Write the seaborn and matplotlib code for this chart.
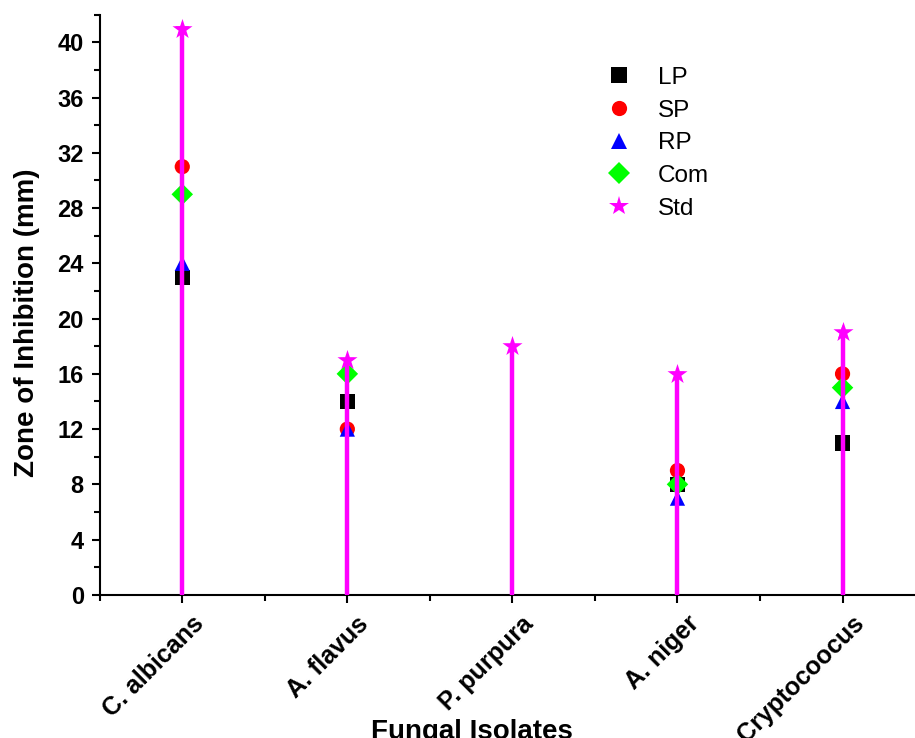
import numpy as np
import pandas as pd
import seaborn as sns
import matplotlib
matplotlib.use("Agg")
import matplotlib.pyplot as plt
import matplotlib.transforms as mtransforms
from matplotlib.ticker import MultipleLocator

# data
isolates = ["C. albicans", "A. flavus", "P. purpura", "A. niger", "Cryptocoocus"]
LP = [23, 14, np.nan, 8, 11]
SP = [31, 12, np.nan, 9, 16]
RP = [24, 12, np.nan, 7, 14]
Com = [29, 16, np.nan, 8, 15]
Std = [41, 17, 18, 16, 19]

series = {"LP": LP, "SP": SP, "RP": RP, "Com": Com, "Std": Std}
rows = []
for name, vals in series.items():
    for i, v in enumerate(vals):
        rows.append({"pos": i, "isolate": isolates[i], "group": name, "zone": v})
df = pd.DataFrame(rows).dropna()

sns.set_style("ticks")
plt.rcParams['font.family'] = ['Liberation Sans', 'DejaVu Sans']
for key in ["text.color", "axes.labelcolor", "xtick.color", "ytick.color", "axes.edgecolor"]:
    plt.rcParams[key] = "black"

colors = {"LP": "#000000", "SP": "#ff0000", "RP": "#0000ff", "Com": "#00ff00", "Std": "#ff00ff"}
marks = {"LP": "s", "SP": "o", "RP": "^", "Com": "D", "Std": "*"}

fig = plt.figure(figsize=(9.15, 7.38), dpi=100)
ax = fig.add_axes([0.109, 0.194, 0.902, 0.786])

sns.scatterplot(data=df, x="pos", y="zone", hue="group", style="group",
                hue_order=list(series), style_order=list(series),
                palette=colors, markers=marks, s=120, linewidth=0, zorder=2, ax=ax)

# stems for the standard
ax.vlines(range(len(isolates)), 0, Std, color="#ff00ff", lw=3.2, zorder=3)
std_df = df[df.group == "Std"]
sns.scatterplot(data=std_df, x="pos", y="zone", color="#ff00ff", marker="*",
                s=230, linewidth=0, zorder=4, legend=False, ax=ax)

ax.set_xlim(-0.5, 4.5)
ax.set_ylim(0, 42)
ax.set_xticks(range(len(isolates)))
ax.set_xticks(np.arange(-0.5, 4.6, 1), minor=True)
ax.yaxis.set_major_locator(MultipleLocator(4))
ax.yaxis.set_minor_locator(MultipleLocator(2))
ax.tick_params(which="major", length=6, width=1.5, direction="out")
ax.tick_params(which="minor", length=4, width=1.5, direction="out")
ax.tick_params(axis="x", which="major", pad=6)
ax.tick_params(axis="y", which="major", pad=5.5)

ax.set_xticklabels(isolates, rotation=45, ha="right", rotation_mode="anchor",
                   fontsize=18, fontweight="bold")
# nudge the rotated labels right, after tick_params so it sticks
shift = mtransforms.ScaledTranslation(9 / 100, 0, fig.dpi_scale_trans)
for lab in ax.get_xticklabels():
    lab.set_transform(lab.get_transform() + shift)
for lab in ax.get_yticklabels():
    lab.set_fontsize(17)
    lab.set_fontweight("bold")

for side in ["top", "right"]:
    ax.spines[side].set_visible(False)
for side in ["left", "bottom"]:
    ax.spines[side].set_linewidth(1.5)

ax.set_xlabel("")
ax.set_ylabel("")
fig.text(0.0295, 0.562, "Zone of Inhibition (mm)", rotation=90, ha="center", va="center",
         fontsize=20, fontweight="bold")
fig.text(0.516, 0.026, "Fungal Isolates", ha="center", va="top",
         fontsize=20, fontweight="bold")

leg = ax.legend(loc="upper left", bbox_to_anchor=(0.573, 0.948), frameon=False,
                fontsize=17.5, labelspacing=0.44, handletextpad=0.6, markerscale=1.0)
# star looks small at the shared size, bump it
star_handle = leg.legend_handles[-1]
if hasattr(star_handle, "set_markersize"):
    star_handle.set_markersize(15)

fig.savefig("out.png", dpi=100)
